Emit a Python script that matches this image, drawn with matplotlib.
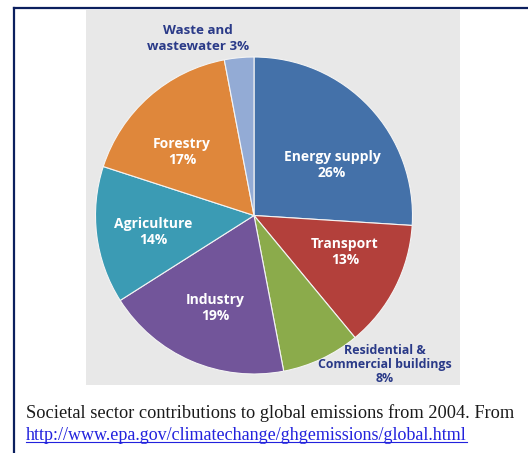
import matplotlib
matplotlib.use("Agg")
import matplotlib.pyplot as plt
from matplotlib.patches import Rectangle
from matplotlib.lines import Line2D

sectors = ["Energy supply", "Transport", "Residential &\nCommercial buildings",
           "Industry", "Agriculture", "Forestry", "Waste and\nwastewater"]
shares = [26, 13, 8, 19, 14, 17, 3]
colors = ["#4471a9", "#b3403b", "#8bab4b", "#72559a", "#3b9bb4", "#df873b", "#93abd5"]

W, H = 528, 453
fig = plt.figure(figsize=(W / 100, H / 100), dpi=100)
fig.patch.set_facecolor("white")

def fx(px):
    return px / W

def fy(py):
    return 1 - py / H

# gray panel
fig.patches.append(Rectangle((fx(86), fy(385)), fx(460) - fx(86), fy(10) - fy(385),
                             transform=fig.transFigure, facecolor="#e8e8e8",
                             edgecolor="none", zorder=-5))
# frame lines
navy = "#0b1f5e"
fig.add_artist(Line2D([fx(14), fx(14)], [fy(8), 0], transform=fig.transFigure,
                      color=navy, lw=1.6))
fig.add_artist(Line2D([fx(14), 1], [fy(8), fy(8)], transform=fig.transFigure,
                      color=navy, lw=1.6))

cx, cy, R = 254, 215.5, 158.5
ax = fig.add_axes([fx(cx - R), fy(cy + R), 2 * R / W, 2 * R / H])
ax.set_zorder(1)
ax.patch.set_alpha(0)
ax.axis("off")
ax.pie(shares, colors=colors, startangle=90, counterclock=False, radius=1,
       wedgeprops=dict(edgecolor="#f4f4f4", linewidth=0.8))
ax.set_xlim(-1, 1)
ax.set_ylim(-1, 1)
ax.set_aspect("auto")

fam = ["Open Sans", "DejaVu Sans"]
inside = [
    ("Energy supply\n{}%", 0, 332, 165),
    ("Transport\n{}%", 1, 345, 252),
    ("Industry\n{}%", 3, 215, 308),
    ("Agriculture\n{}%", 4, 153, 232),
    ("Forestry\n{}%", 5, 182, 152),
]
for fmt, i, px, py in inside:
    fig.text(fx(px), fy(py), fmt.format(shares[i]), ha="center", va="center",
             color="white", fontsize=10, fontweight="bold", family=fam,
             linespacing=1.2, zorder=5)

label_color = "#2a3a88"
fig.text(fx(198), fy(38.5), "Waste and\nwastewater {}%".format(shares[6]),
         ha="center", va="center", color=label_color, fontsize=9.6,
         fontweight="bold", family=fam, linespacing=1.25, zorder=5)
fig.text(fx(385), fy(364.5), "Residential &\nCommercial buildings\n{}%".format(shares[2]),
         ha="center", va="center", color=label_color, fontsize=8.9,
         fontweight="bold", family=fam, linespacing=1.1, zorder=5)

fig.text(fx(26), fy(418), "Societal sector contributions to global emissions from 2004. From",
         ha="left", va="baseline", color="#1a1a1a", fontsize=13.2,
         family=["Liberation Serif"])
t = fig.text(fx(26), fy(440), "http://www.epa.gov/climatechange/ghgemissions/global.html",
             ha="left", va="baseline", color="#2222dd", fontsize=13.0,
             family=["Liberation Serif"])
fig.canvas.draw()
bb = t.get_window_extent()
fig.add_artist(Line2D([bb.x0 / W, bb.x1 / W], [fy(442), fy(442)],
                      transform=fig.transFigure, color="#2222dd", lw=0.8))

fig.savefig("out.png", dpi=100, facecolor="white")
